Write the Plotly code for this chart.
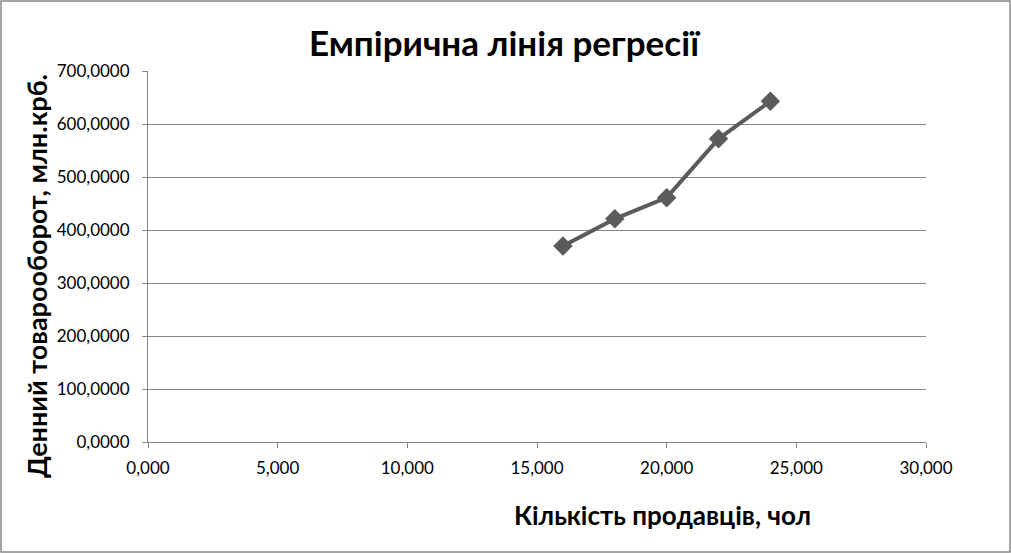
import plotly.graph_objects as go

x_vals = [16, 18, 20, 22, 24]
y_vals = [370, 421, 461, 572, 643]
x_ticks = [0, 5, 10, 15, 20, 25, 30]
x_tick_text = ["0,000", "5,000", "10,000", "15,000", "20,000", "25,000", "30,000"]
y_ticks = [0, 100, 200, 300, 400, 500, 600, 700]
y_tick_text = ["0,0000", "100,0000", "200,0000", "300,0000", "400,0000", "500,0000", "600,0000", "700,0000"]

title_text = "Емпірична лінія регресії"
x_title = "Кількість продавців, чол"
y_title = "Денний товарооборот, млн.крб."

W, H = 1011, 553
L, R, T, B = 148, 85, 71, 111
pw, ph = W - L - R, H - T - B

def px(xp):
    return (xp - L) / pw

def py(yp):
    return (H - B - yp) / ph

color = "#5b5b5b"
font_family = "Lato, 'Open Sans', sans-serif"

fig = go.Figure()
fig.add_trace(go.Scatter(
    x=x_vals, y=y_vals, mode="lines+markers",
    line=dict(color=color, width=4),
    marker=dict(symbol="diamond", size=15, color=color),
    showlegend=False, cliponaxis=False,
))

fig.update_layout(
    width=W, height=H,
    margin=dict(l=L, r=R, t=T, b=B),
    paper_bgcolor="white", plot_bgcolor="white",
    font=dict(family=font_family, color="black"),
    xaxis=dict(
        range=[0, 30], tickvals=x_ticks, ticktext=x_tick_text,
        showgrid=False, zeroline=False, showline=True, linecolor="#868686", linewidth=1,
        ticks="outside", ticklen=5, tickcolor="#868686", ticklabelstandoff=6,
        tickfont=dict(size=17, family=font_family), fixedrange=True,
    ),
    yaxis=dict(
        range=[0, 700], tickvals=y_ticks, ticktext=y_tick_text,
        showgrid=True, gridcolor="#868686", gridwidth=1, zeroline=False,
        showline=True, linecolor="#868686", linewidth=1,
        ticks="outside", ticklen=5, tickcolor="#868686", ticklabelstandoff=9,
        tickfont=dict(size=17, family=font_family), fixedrange=True,
    ),
    annotations=[
        dict(text="<b>" + title_text + "</b>", x=px(504), y=py(42), xref="paper", yref="paper",
             showarrow=False, font=dict(size=35, family=font_family), xanchor="center", yanchor="middle"),
        dict(text="<b>" + x_title + "</b>", x=px(662), y=py(515), xref="paper", yref="paper",
             showarrow=False, font=dict(size=26, family=font_family), xanchor="center", yanchor="middle"),
        dict(text="<b>" + y_title + "</b>", x=px(36), y=py(276), xref="paper", yref="paper",
             showarrow=False, textangle=-90, font=dict(size=27, family=font_family),
             xanchor="center", yanchor="middle"),
    ],
    shapes=[
        dict(type="rect", xref="paper", yref="paper",
             x0=px(1), x1=px(1010), y0=py(552), y1=py(1),
             line=dict(color="#868686", width=1.5), layer="below"),
    ],
)

fig.write_html("out.html", config={"displayModeBar": False},
               post_script="document.body.style.margin='0';document.body.style.overflow='hidden';")
